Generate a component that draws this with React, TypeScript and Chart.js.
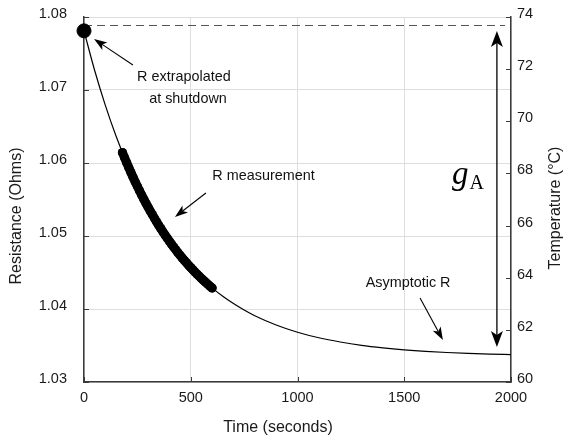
import React, { useEffect, useRef } from "react";
import { Chart, registerables } from "chart.js";

Chart.register(...registerables);

// ---- data ----
const TIME_CURVE = [0, 50, 100, 150, 200, 250, 300, 350, 400, 450, 500, 550, 600, 650, 700, 750, 800, 900, 1000, 1100, 1200, 1300, 1400, 1500, 1600, 1700, 1800, 1900, 2000];
const R_CURVE = [1.0781, 1.07267, 1.0679, 1.06371, 1.06003, 1.0568, 1.05396, 1.05147, 1.04928, 1.04736, 1.04567, 1.04419, 1.04289, 1.04174, 1.04074, 1.03986, 1.03908, 1.03781, 1.03682, 1.03606, 1.03548, 1.03502, 1.03468, 1.03441, 1.0342, 1.03404, 1.03392, 1.03382, 1.03375];

const TIME_MEAS = [180, 190, 200, 210, 220, 230, 240, 250, 260, 270, 280, 290, 300, 310, 320, 330, 340, 350, 360, 370, 380, 390, 400, 410, 420, 430, 440, 450, 460, 470, 480, 490, 500, 510, 520, 530, 540, 550, 560, 570, 580, 590, 600];
const R_MEAS = [1.06144, 1.06073, 1.06003, 1.05935, 1.05869, 1.05804, 1.05741, 1.0568, 1.0562, 1.05562, 1.05505, 1.0545, 1.05396, 1.05344, 1.05293, 1.05243, 1.05194, 1.05147, 1.05101, 1.05056, 1.05012, 1.0497, 1.04928, 1.04888, 1.04848, 1.0481, 1.04772, 1.04736, 1.047, 1.04666, 1.04632, 1.04599, 1.04567, 1.04536, 1.04506, 1.04476, 1.04447, 1.04419, 1.04392, 1.04365, 1.04339, 1.04313, 1.04289];

const TIME_SHUTDOWN = [0];
const R_SHUTDOWN = [1.0781];

const X_TICKS = [0, 500, 1000, 1500, 2000];
const R_TICKS = [1.03, 1.04, 1.05, 1.06, 1.07, 1.08];
const T_TICKS = [60, 62, 64, 66, 68, 70, 72, 74];

const X_TITLE = "Time (seconds)";
const Y_TITLE = "Resistance (Ohms)";
const Y2_TITLE = "Temperature (°C)";

// annotation anchors in data units (time, resistance)
const DASH_LEVEL = 1.0789;
const DASH_END_T = 1972;
const LABELS = [
  { text: "R extrapolated", t: 468, r: 1.07178 },
  { text: "at shutdown", t: 487, r: 1.06877 },
  { text: "R measurement", t: 841, r: 1.05822 },
  { text: "Asymptotic R", t: 1518, r: 1.04356 },
];
const ARROWS = [
  { t1: 229, r1: 1.07342, t2: 47, r2: 1.07699 },
  { t1: 571, r1: 1.05589, t2: 426, r2: 1.0526 },
  { t1: 1574, r1: 1.04151, t2: 1681, r2: 1.03575 },
];
const GAP_ARROW = { t: 1934, rTop: 1.07808, rBottom: 1.03479 };
const GAP_LABEL = { t: 1724, r: 1.05671 };

const FONT = "'Liberation Sans', Arial, sans-serif";
const AXIS_COLOR = "#3a3a3a";
const TEXT_COLOR = "#1a1a1a";

function drawArrow(ctx: CanvasRenderingContext2D, x1: number, y1: number, x2: number, y2: number, headLen: number, headW: number, lw: number) {
  const ang = Math.atan2(y2 - y1, x2 - x1);
  const cos = Math.cos(ang), sin = Math.sin(ang);
  const bx = x2 - cos * headLen * 0.75, by = y2 - sin * headLen * 0.75;
  ctx.save();
  ctx.strokeStyle = "#000";
  ctx.fillStyle = "#000";
  ctx.lineWidth = lw;
  ctx.beginPath();
  ctx.moveTo(x1, y1);
  ctx.lineTo(bx, by);
  ctx.stroke();
  const backX = x2 - cos * headLen, backY = y2 - sin * headLen;
  const px = -sin * headW / 2, py = cos * headW / 2;
  ctx.beginPath();
  ctx.moveTo(x2, y2);
  ctx.lineTo(backX + px, backY + py);
  ctx.lineTo(bx, by);
  ctx.lineTo(backX - px, backY - py);
  ctx.closePath();
  ctx.fill();
  ctx.restore();
}

const annotationPlugin = {
  id: "annotations",
  beforeDatasetsDraw(chart: any) {
    const ctx = chart.ctx as CanvasRenderingContext2D;
    const xs = chart.scales.x, ys = chart.scales.y, yt = chart.scales.yT;
    const area = chart.chartArea;
    ctx.save();
    // inside tick marks
    ctx.strokeStyle = AXIS_COLOR;
    ctx.lineWidth = 1;
    const tl = 5;
    ctx.beginPath();
    X_TICKS.forEach((v) => {
      const x = Math.round(xs.getPixelForValue(v)) + 0.5;
      ctx.moveTo(x, area.bottom);
      ctx.lineTo(x, area.bottom - tl);
    });
    R_TICKS.forEach((v) => {
      const y = Math.round(ys.getPixelForValue(v)) + 0.5;
      ctx.moveTo(area.left, y);
      ctx.lineTo(area.left + tl, y);
    });
    T_TICKS.forEach((v) => {
      const y = Math.round(yt.getPixelForValue(v)) + 0.5;
      ctx.moveTo(area.right, y);
      ctx.lineTo(area.right - tl, y);
    });
    ctx.stroke();
    // dashed reference line
    ctx.strokeStyle = "#555";
    ctx.lineWidth = 1;
    ctx.setLineDash([8, 5]);
    const yd = Math.round(ys.getPixelForValue(DASH_LEVEL)) + 0.5;
    ctx.beginPath();
    ctx.moveTo(xs.getPixelForValue(0), yd);
    ctx.lineTo(xs.getPixelForValue(DASH_END_T), yd);
    ctx.stroke();
    ctx.restore();
  },
  afterDraw(chart: any) {
    const ctx = chart.ctx as CanvasRenderingContext2D;
    const xs = chart.scales.x, ys = chart.scales.y;
    const area = chart.chartArea;
    ctx.save();
    // text labels
    ctx.fillStyle = "#111";
    ctx.font = `14.4px ${FONT}`;
    ctx.textAlign = "center";
    ctx.textBaseline = "middle";
    LABELS.forEach((l) => {
      ctx.fillText(l.text, xs.getPixelForValue(l.t), ys.getPixelForValue(l.r));
    });
    // arrows
    ARROWS.forEach((a) => {
      drawArrow(ctx, xs.getPixelForValue(a.t1), ys.getPixelForValue(a.r1), xs.getPixelForValue(a.t2), ys.getPixelForValue(a.r2), 13, 9, 1.1);
    });
    // double arrow
    const gx = xs.getPixelForValue(GAP_ARROW.t);
    const gTop = ys.getPixelForValue(GAP_ARROW.rTop);
    const gBot = ys.getPixelForValue(GAP_ARROW.rBottom);
    const mid = (gTop + gBot) / 2;
    drawArrow(ctx, gx, mid, gx, gTop, 16, 12, 1.3);
    drawArrow(ctx, gx, mid, gx, gBot, 16, 12, 1.3);
    // g_A label
    const lx = xs.getPixelForValue(GAP_LABEL.t);
    const ly = ys.getPixelForValue(GAP_LABEL.r);
    ctx.fillStyle = "#000";
    ctx.textAlign = "left";
    ctx.textBaseline = "alphabetic";
    ctx.font = `italic 33px 'Liberation Serif', serif`;
    ctx.fillText("g", lx, ly - 3);
    const gw = ctx.measureText("g").width;
    ctx.font = `20px 'Liberation Serif', serif`;
    ctx.fillText("A", lx + gw + 1, ly + 2);
    // axis titles
    ctx.fillStyle = TEXT_COLOR;
    ctx.font = `16px ${FONT}`;
    ctx.textAlign = "center";
    ctx.textBaseline = "middle";
    ctx.fillText(X_TITLE, 278, 428);
    ctx.save();
    ctx.translate(17, 216);
    ctx.rotate(-Math.PI / 2);
    ctx.fillText(Y_TITLE, 0, 0);
    ctx.restore();
    ctx.save();
    ctx.translate(556, 208);
    ctx.rotate(-Math.PI / 2);
    ctx.fillText(Y2_TITLE, 0, 0);
    ctx.restore();
    ctx.restore();
  },
};

export default function App() {
  const ref = useRef<HTMLCanvasElement | null>(null);
  useEffect(() => {
    document.body.style.margin = "0";
    if (!ref.current) return;
    const curve = TIME_CURVE.map((t, i) => ({ x: t, y: R_CURVE[i] }));
    const meas = TIME_MEAS.map((t, i) => ({ x: t, y: R_MEAS[i] }));
    const shut = TIME_SHUTDOWN.map((t, i) => ({ x: t, y: R_SHUTDOWN[i] }));
    const tickFont = { family: FONT, size: 14.5 };
    const noPad = (s: any) => { s.paddingTop = 0; s.paddingBottom = 0; s.paddingLeft = 0; s.paddingRight = 0; };
    const chart = new Chart(ref.current, {
      type: "scatter",
      data: {
        datasets: [
          {
            label: "Shutdown",
            data: shut,
            pointRadius: 7,
            pointBackgroundColor: "#000",
            pointBorderColor: "#000",
            showLine: false,
            clip: false as any,
            order: 0,
          },
          {
            label: "Measurement",
            data: meas,
            pointRadius: 4.6,
            pointBackgroundColor: "#000",
            pointBorderColor: "#000",
            pointBorderWidth: 0,
            showLine: true,
            borderColor: "#000",
            borderWidth: 9,
            borderCapStyle: "round",
            borderJoinStyle: "round",
            order: 1,
          } as any,
          {
            label: "Fit",
            data: curve,
            showLine: true,
            borderColor: "#000",
            borderWidth: 1.2,
            pointRadius: 0,
            cubicInterpolationMode: "monotone",
            order: 2,
          } as any,
        ],
      },
      options: {
        animation: false,
        responsive: false,
        maintainAspectRatio: false,
        layout: { padding: { top: 17, left: 0, right: 0, bottom: 0 } },
        plugins: { legend: { display: false }, tooltip: { enabled: false } },
        scales: {
          x: {
            type: "linear",
            min: 0,
            max: 2000,
            afterBuildTicks: (s: any) => { s.ticks = X_TICKS.map((v) => ({ value: v })); },
            afterFit: (s: any) => { s.height = 59; noPad(s); },
            grid: { color: "#dedede", lineWidth: 1, drawTicks: false },
            border: { color: AXIS_COLOR, width: 1.5 },
            ticks: { font: tickFont, color: TEXT_COLOR, padding: 7, maxRotation: 0, callback: (v: any) => String(v) },
          },
          y: {
            type: "linear",
            position: "left",
            min: 1.03,
            max: 1.08,
            afterBuildTicks: (s: any) => { s.ticks = R_TICKS.map((v) => ({ value: v })); },
            afterFit: (s: any) => { s.width = 84; noPad(s); },
            grid: { color: "#dedede", lineWidth: 1, drawTicks: false },
            border: { color: AXIS_COLOR, width: 1.5 },
            ticks: { font: tickFont, color: TEXT_COLOR, padding: 17, labelOffset: -3, callback: (v: any) => Number(v).toFixed(2) },
          },
          yT: {
            type: "linear",
            position: "right",
            min: 60,
            max: 74,
            afterBuildTicks: (s: any) => { s.ticks = T_TICKS.map((v) => ({ value: v })); },
            afterFit: (s: any) => { s.width = 53; noPad(s); },
            grid: { drawOnChartArea: false, drawTicks: false },
            border: { color: AXIS_COLOR, width: 1.5 },
            ticks: { font: tickFont, color: TEXT_COLOR, padding: 6, labelOffset: -3, callback: (v: any) => String(v) },
          },
        },
      } as any,
      plugins: [annotationPlugin],
    });
    return () => chart.destroy();
  }, []);
  return (
    <div style={{ position: "fixed", left: 0, top: 0, width: 564, height: 441, background: "#fff" }}>
      <canvas ref={ref} width={564} height={441} />
    </div>
  );
}
